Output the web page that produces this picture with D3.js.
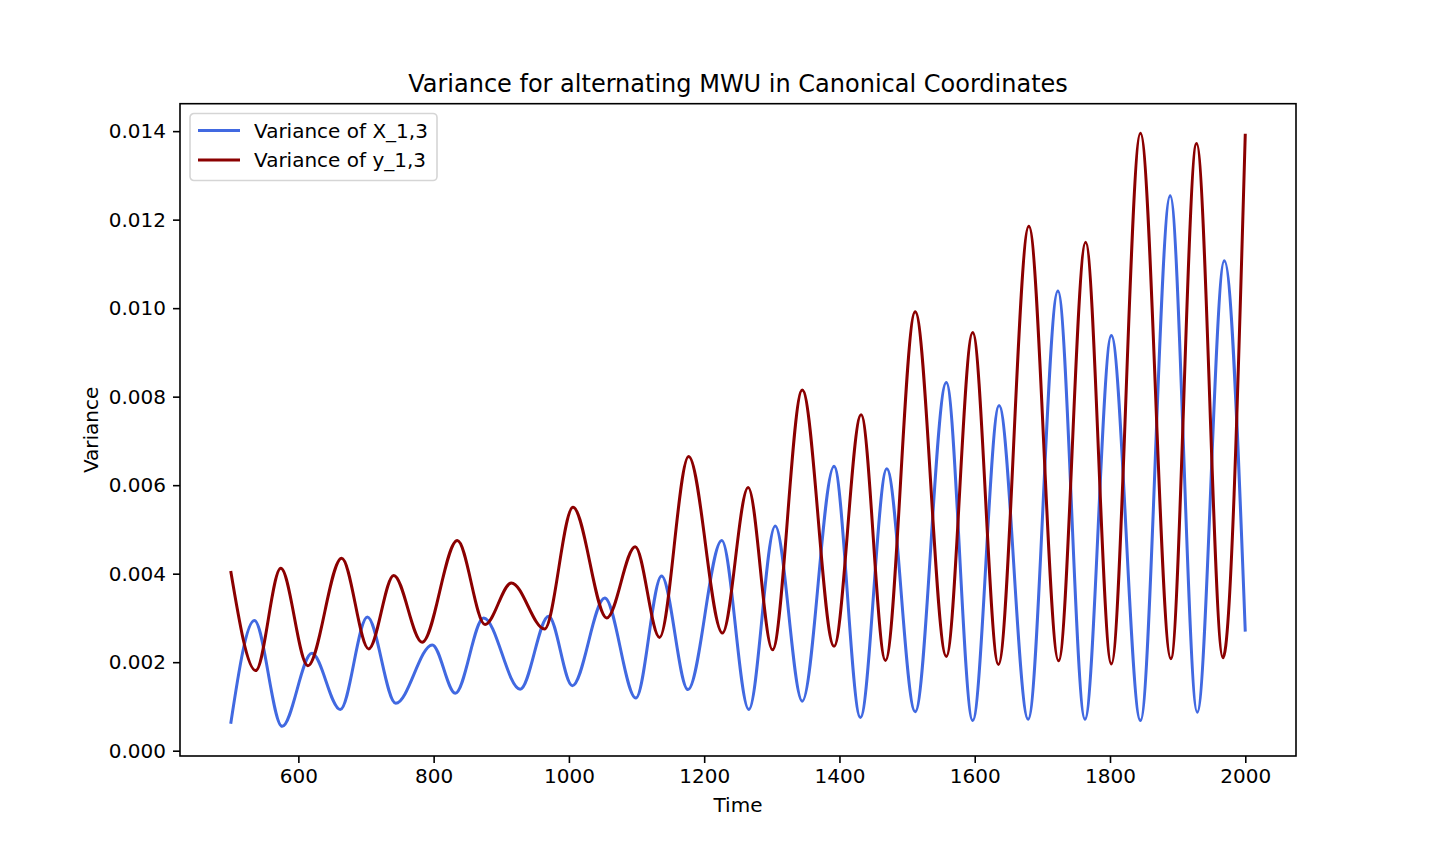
<!DOCTYPE html>
<html lang="en">
	<head>
		<meta charset="utf-8">
		<title>Variance for alternating MWU</title>
		<script type="text/javascript" src="https://cdn.jsdelivr.net/npm/d3@7"></script>
		<style type="text/css">
			* {
				margin: 0;
				padding: 0;
			}
			body {
				background-color: white;
				font-family: "DejaVu Sans", sans-serif;
			}
			svg {
				display: block;
			}
			.axis text {
				font-family: "DejaVu Sans", sans-serif;
				font-size: 20px;
				fill: black;
			}
			.axis path, .axis line {
				stroke: black;
				stroke-width: 1.6px;
			}
		</style>
	</head>
	<body>
		<div id="chart"></div>

		<script type="text/javascript">

			//Series (time, variance) at turning points
			var x_time = [500, 535, 576, 620, 662, 702, 744, 798, 832, 874, 928, 970, 1005, 1053,
				1099, 1137, 1176, 1226, 1266, 1305, 1345, 1392, 1431, 1470, 1512, 1558, 1597,
				1636, 1679, 1723, 1763, 1802, 1845, 1889, 1929, 1969, 2000];
			var x_var = [0.00061, 0.00294, 0.00055, 0.00220, 0.00093, 0.00302, 0.00107, 0.00239,
				0.00130, 0.00300, 0.00139, 0.00304, 0.00147, 0.00345, 0.00119, 0.00395, 0.00138,
				0.00475, 0.00093, 0.00508, 0.00112, 0.00643, 0.00075, 0.00637, 0.00088, 0.00832,
				0.00068, 0.00780, 0.00071, 0.01039, 0.00071, 0.00938, 0.00068, 0.01254, 0.00087,
				0.01107, 0.00269];

			var y_time = [500, 537, 574, 614, 664, 704, 741, 783, 835, 876, 915, 964, 1006, 1056,
				1098, 1134, 1177, 1227, 1265, 1301, 1345, 1392, 1432, 1468, 1512, 1558, 1597,
				1635, 1680, 1724, 1764, 1802, 1845, 1890, 1928, 1967, 2000];
			var y_var = [0.00406, 0.00181, 0.00412, 0.00192, 0.00435, 0.00230, 0.00396, 0.00245,
				0.00475, 0.00285, 0.00379, 0.00275, 0.00550, 0.00300, 0.00461, 0.00256, 0.00665,
				0.00266, 0.00595, 0.00228, 0.00815, 0.00236, 0.00759, 0.00204, 0.00992, 0.00213,
				0.00945, 0.00195, 0.01185, 0.00203, 0.01149, 0.00196, 0.01395, 0.00208, 0.01372,
				0.00210, 0.01394];

			var x_ticks = [600, 800, 1000, 1200, 1400, 1600, 1800, 2000];
			var y_ticks = [0, 0.002, 0.004, 0.006, 0.008, 0.010, 0.012, 0.014];

			var series = [
				{label: "Variance of X_1,3", color: "#4169e1", t: x_time, v: x_var},
				{label: "Variance of y_1,3", color: "#8b0000", t: y_time, v: y_var}
			];

			//Width and height, matplotlib style axes box
			var w = 1440;
			var h = 864;
			var axLeft = 180, axRight = 1296, axTop = 103.7, axBottom = 756;

			var svg = d3.select("#chart")
				.append("svg")
				.attr("width", w)
				.attr("height", h);

			//5% margins like matplotlib
			var tExt = d3.extent(x_time.concat(y_time));
			var vExt = d3.extent(x_var.concat(y_var));
			var tPad = (tExt[1] - tExt[0]) * 0.05;
			var vPad = (vExt[1] - vExt[0]) * 0.05;

			var xScale = d3.scaleLinear()
				.domain([tExt[0] - tPad, tExt[1] + tPad])
				.range([axLeft, axRight]);

			var yScale = d3.scaleLinear()
				.domain([vExt[0] - vPad, vExt[1] + vPad])
				.range([axBottom, axTop]);

			//lines
			var line = d3.line()
				.x(function(d) { return xScale(d[0]); })
				.y(function(d) { return yScale(d[1]); })
				.curve(d3.curveMonotoneX);

			svg.append("g")
				.selectAll("path")
				.data(series)
				.enter()
				.append("path")
				.attr("fill", "none")
				.attr("stroke", function(d) { return d.color; })
				.attr("stroke-width", 3)
				.attr("d", function(d) {
					return line(d.t.map(function(t, i) { return [t, d.v[i]]; }));
				});

			//axes
			var xAxis = d3.axisBottom(xScale)
				.tickValues(x_ticks)
				.tickSize(7)
				.tickPadding(6)
				.tickFormat(d3.format("d"));

			var yAxis = d3.axisLeft(yScale)
				.tickValues(y_ticks)
				.tickSize(7)
				.tickPadding(7)
				.tickFormat(d3.format(".3f"));

			svg.append("g")
				.attr("class", "axis")
				.attr("transform", "translate(0," + axBottom + ")")
				.call(xAxis)
				.call(function(g) { g.select(".domain").remove(); });

			svg.append("g")
				.attr("class", "axis")
				.attr("transform", "translate(" + axLeft + ",0)")
				.call(yAxis)
				.call(function(g) { g.select(".domain").remove(); });

			//frame
			svg.append("rect")
				.attr("x", axLeft)
				.attr("y", axTop)
				.attr("width", axRight - axLeft)
				.attr("height", axBottom - axTop)
				.attr("fill", "none")
				.attr("stroke", "black")
				.attr("stroke-width", 1.6);

			//title and labels
			svg.append("text")
				.attr("x", (axLeft + axRight) / 2)
				.attr("y", axTop - 12)
				.attr("text-anchor", "middle")
				.style("font-size", "24px")
				.text("Variance for alternating MWU in Canonical Coordinates");

			svg.append("text")
				.attr("x", (axLeft + axRight) / 2)
				.attr("y", 812)
				.attr("text-anchor", "middle")
				.style("font-size", "20px")
				.text("Time");

			svg.append("text")
				.attr("transform", "translate(98," + ((axTop + axBottom) / 2) + ") rotate(-90)")
				.attr("text-anchor", "middle")
				.style("font-size", "20px")
				.text("Variance");

			//legend
			var legend = svg.append("g")
				.attr("transform", "translate(190,113.5)");

			legend.append("rect")
				.attr("width", 247)
				.attr("height", 67)
				.attr("rx", 4)
				.attr("fill", "white")
				.attr("fill-opacity", 0.8)
				.attr("stroke", "#d5d5d5")
				.attr("stroke-width", 1.6);

			var item = legend.selectAll(".item")
				.data(series)
				.enter()
				.append("g")
				.attr("transform", function(d, i) { return "translate(0," + (17 + i * 29.5) + ")"; });

			item.append("line")
				.attr("x1", 8)
				.attr("x2", 50)
				.attr("stroke", function(d) { return d.color; })
				.attr("stroke-width", 3);

			item.append("text")
				.attr("x", 64)
				.attr("dy", "0.35em")
				.style("font-size", "20px")
				.text(function(d) { return d.label; });

		</script>
	</body>
</html>
